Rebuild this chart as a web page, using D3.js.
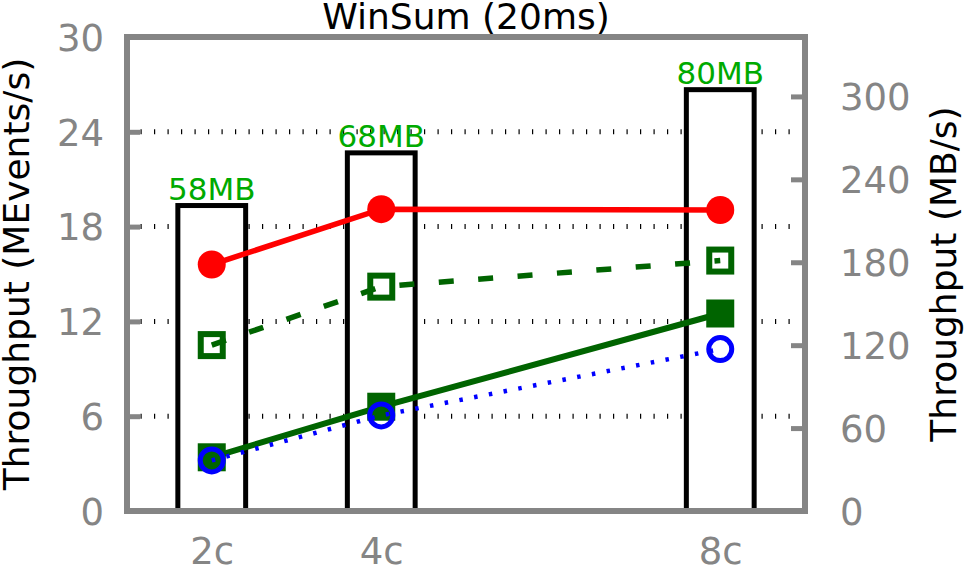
<!DOCTYPE html>
<html>
<head>
<meta charset="utf-8">
<script src="https://cdn.jsdelivr.net/npm/d3@7"></script>
<style>
  body { margin: 0; background: #fff; }
  svg { display: block; font-family: "DejaVu Sans", sans-serif; }
</style>
</head>
<body>
<div id="graph"></div>
<script>
// chart values
var cores = [2, 4, 8];
var coreLabels = ['2c', '4c', '8c'];
var memMB = [58, 68, 80];
var redSeries = [15.6, 19.1, 19.05];        // filled circles, solid
var greenDashSeries = [10.5, 14.2, 15.85];  // open squares, dashed
var greenSolidSeries = [3.4, 6.6, 12.5];    // filled squares, solid
var blueSeries = [3.2, 6.05, 10.25];        // open circles, dotted
var leftTicks = [0, 6, 12, 18, 24, 30];
var rightTicks = [0, 60, 120, 180, 240, 300];

var width = 969, height = 570;
var plot = {left: 127, right: 805, top: 37, bottom: 511};
var gray = '#858585';

var x = d3.scaleLinear().domain([1, 9]).range([plot.left, plot.right]);
var y = d3.scaleLinear().domain([0, 30]).range([plot.bottom, plot.top]);
var yRight = d3.scaleLinear().domain([0, 343]).range([plot.bottom, plot.top]);
var yMem = d3.scaleLinear().domain([0, 90]).range([plot.bottom, plot.top]);

var svg = d3.select('#graph').append('svg')
  .attr('width', width)
  .attr('height', height);

// dotted grid lines
svg.append('g').selectAll('line')
  .data(leftTicks.slice(1, -1))
  .enter().append('line')
  .attr('x1', plot.left).attr('x2', plot.right)
  .attr('y1', function(d) { return y(d); })
  .attr('y2', function(d) { return y(d); })
  .attr('stroke', '#000')
  .attr('stroke-width', 5)
  .attr('stroke-dasharray', '1.2,12.3');

// memory bars, 0.8 core wide
var barW = x(1.8) - x(1);
svg.append('g').selectAll('rect')
  .data(cores)
  .enter().append('rect')
  .attr('x', function(d) { return x(d) - barW / 2; })
  .attr('y', function(d, i) { return yMem(memMB[i]); })
  .attr('width', barW)
  .attr('height', function(d, i) { return plot.bottom - yMem(memMB[i]); })
  .attr('fill', '#fff')
  .attr('stroke', '#000')
  .attr('stroke-width', 5);

svg.append('g').selectAll('text')
  .data(cores)
  .enter().append('text')
  .attr('x', function(d) { return x(d); })
  .attr('y', function(d, i) { return yMem(memMB[i]) - 6; })
  .attr('text-anchor', 'middle')
  .attr('font-size', 31)
  .attr('fill', '#00aa00')
  .text(function(d, i) { return memMB[i] + 'MB'; });

// series lines + markers
var line = d3.line()
  .x(function(d) { return x(d[0]); })
  .y(function(d) { return y(d[1]); });

function drawSeries(values, color, width, dash, marker) {
  var pts = cores.map(function(c, i) { return [c, values[i]]; });
  var g = svg.append('g');
  g.append('path')
    .datum(pts)
    .attr('d', line)
    .attr('fill', 'none')
    .attr('stroke', color)
    .attr('stroke-width', width)
    .attr('stroke-dasharray', dash);
  var m = g.selectAll('.m').data(pts).enter();
  if (marker == 'circle') {
    m.append('circle')
      .attr('cx', function(d) { return x(d[0]); })
      .attr('cy', function(d) { return y(d[1]); })
      .attr('r', 14)
      .attr('fill', color);
  } else if (marker == 'ocircle') {
    m.append('circle')
      .attr('cx', function(d) { return x(d[0]); })
      .attr('cy', function(d) { return y(d[1]); })
      .attr('r', 11.5)
      .attr('fill', 'none')
      .attr('stroke', color)
      .attr('stroke-width', 5);
  } else if (marker == 'square') {
    m.append('rect')
      .attr('x', function(d) { return x(d[0]) - 14; })
      .attr('y', function(d) { return y(d[1]) - 14; })
      .attr('width', 28).attr('height', 28)
      .attr('fill', color);
  } else {
    m.append('rect')
      .attr('x', function(d) { return x(d[0]) - 11; })
      .attr('y', function(d) { return y(d[1]) - 11; })
      .attr('width', 22).attr('height', 22)
      .attr('fill', 'none')
      .attr('stroke', color)
      .attr('stroke-width', 6);
  }
}

drawSeries(redSeries, '#ff0000', 5.5, null, 'circle');
drawSeries(greenDashSeries, '#006400', 5.5, '15,24.5', 'osquare');
drawSeries(greenSolidSeries, '#006400', 6, null, 'square');
drawSeries(blueSeries, '#0000ff', 4.5, '3.5,11.5', 'ocircle');

// axes
var leftAxis = svg.append('g')
  .attr('transform', 'translate(' + plot.left + ',0)')
  .call(d3.axisLeft(y).tickValues(leftTicks).tickSize(-13).tickPadding(23));
var rightAxis = svg.append('g')
  .attr('transform', 'translate(' + plot.right + ',0)')
  .call(d3.axisRight(yRight).tickValues(rightTicks).tickSize(-14).tickPadding(35));
var bottomAxis = svg.append('g')
  .attr('transform', 'translate(0,' + plot.bottom + ')')
  .call(d3.axisBottom(x).tickValues(cores).tickSize(0).tickPadding(27)
    .tickFormat(function(d, i) { return coreLabels[i]; }));

[leftAxis, rightAxis, bottomAxis].forEach(function(a) {
  a.attr('font-size', 37).attr('font-family', '"DejaVu Sans", sans-serif');
  a.select('.domain').remove();
  a.selectAll('.tick line').attr('stroke', gray).attr('stroke-width', 5);
  a.selectAll('.tick text').attr('fill', gray);
});
leftAxis.selectAll('.tick text').attr('dy', '0.36em');
rightAxis.selectAll('.tick text').attr('dy', '0.36em');

// frame
svg.append('rect')
  .attr('x', plot.left).attr('y', plot.top)
  .attr('width', plot.right - plot.left)
  .attr('height', plot.bottom - plot.top)
  .attr('fill', 'none')
  .attr('stroke', gray)
  .attr('stroke-width', 6);

// titles
svg.append('text')
  .attr('x', (plot.left + plot.right) / 2)
  .attr('y', 29)
  .attr('text-anchor', 'middle')
  .attr('font-size', 36)
  .text('WinSum (20ms)');

svg.append('text')
  .attr('transform', 'translate(29,' + (plot.top + plot.bottom) / 2 + ') rotate(-90)')
  .attr('text-anchor', 'middle')
  .attr('font-size', 36)
  .text('Throughput (MEvents/s)');

svg.append('text')
  .attr('transform', 'translate(956,' + (plot.top + plot.bottom) / 2 + ') rotate(-90)')
  .attr('text-anchor', 'middle')
  .attr('font-size', 36)
  .text('Throughput (MB/s)');
</script>
</body>
</html>
